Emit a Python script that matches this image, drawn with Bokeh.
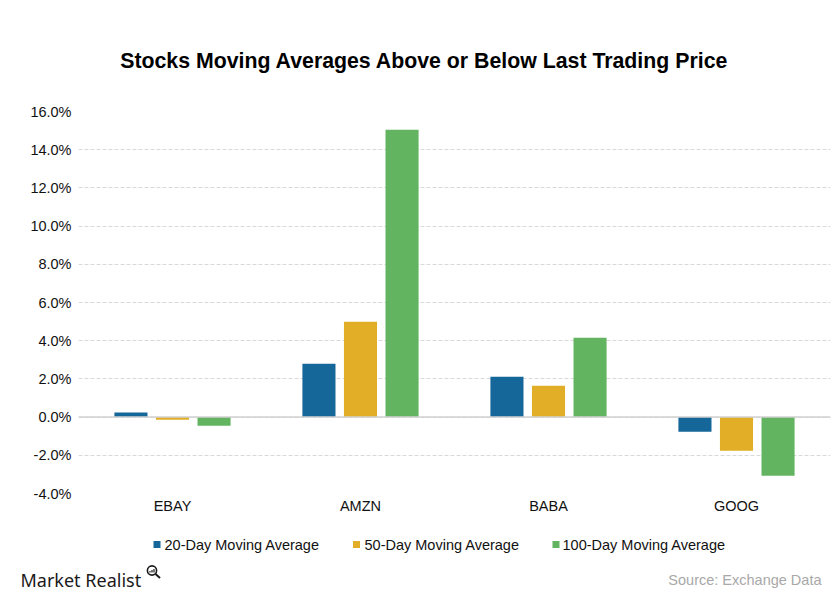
from bokeh.plotting import figure
from bokeh.models import (ColumnDataSource, FactorRange, Range1d, Label,
                          Span, PrintfTickFormatter, FixedTicker)
from bokeh.core.properties import value
from bokeh.layouts import column
from bokeh.transform import dodge
from bokeh.embed import file_html
from bokeh.resources import INLINE

# ---- data ----
tickers = ["EBAY", "AMZN", "BABA", "GOOG"]
ma20 = [0.24, 2.79, 2.11, -0.77]
ma50 = [-0.14, 4.99, 1.64, -1.76]
ma100 = [-0.45, 15.04, 4.15, -3.07]
series_names = ["20-Day Moving Average", "50-Day Moving Average", "100-Day Moving Average"]
y_ticks = [-4, -2, 0, 2, 4, 6, 8, 10, 12, 14, 16]
title_text = "Stocks Moving Averages Above or Below  Last Trading Price"
source_text = "Source: Exchange Data"
logo_text = "Market Realist"

colors = ["#156699", "#e3ae27", "#63b461"]
FONT = "Liberation Sans"
W = 840


def blank(h):
    f = figure(width=W, height=h, x_range=Range1d(0, W), y_range=Range1d(0, h),
               output_backend="svg", toolbar_location=None,
               x_axis_location=None, y_axis_location=None,
               min_border=0, min_border_left=0, min_border_right=0,
               min_border_top=0, min_border_bottom=0)
    f.outline_line_color = None
    f.grid.visible = False
    f.frame_align = False
    return f


# ---- title strip ----
top = blank(95)
top.add_layout(Label(x=427, y=35, x_units="screen", y_units="screen", text=title_text,
                     text_font=FONT, text_font_size="21.3px", text_font_style="bold",
                     text_align="center", text_baseline="middle", text_color="#000000"))

# ---- main chart ----
src = ColumnDataSource(dict(t=tickers, a=ma20, b=ma50, c=ma100))
p = figure(x_range=FactorRange(*tickers, range_padding=0), y_range=(-4, 16),
           width=W, height=435, output_backend="svg", toolbar_location=None,
           min_border_left=78, min_border_right=10, min_border_top=16,
           min_border_bottom=37)
p.outline_line_color = None
p.frame_align = False

off = 0.221
bw = 0.176
for col, dx, c in (("a", -off, colors[0]), ("b", 0, colors[1]), ("c", off, colors[2])):
    p.vbar(x=dodge("t", dx, range=p.x_range), top=col, bottom=0, width=bw,
           source=src, fill_color=c, line_color=None)

p.xgrid.grid_line_color = None
p.ygrid.grid_line_color = "#d9d9d9"
p.ygrid.grid_line_dash = "4 2"
p.ygrid.grid_line_width = 1
p.add_layout(Span(location=0, dimension="width", line_color="#d0d0d0", line_width=1.5))

p.yaxis.ticker = FixedTicker(ticks=y_ticks)
p.yaxis.formatter = PrintfTickFormatter(format="%.1f%%")
for ax in (p.xaxis[0], p.yaxis[0]):
    ax.axis_line_color = None
    ax.major_tick_line_color = None
    ax.minor_tick_line_color = None
    ax.major_tick_out = 0
    ax.major_tick_in = 0
    ax.major_label_text_font = FONT
    ax.major_label_text_font_size = "14.5px"
    ax.major_label_text_color = "#111111"
p.yaxis.major_label_standoff = 7
p.xaxis.major_label_standoff = 4

# ---- legend + footer strip ----
bot = blank(71)
leg = ColumnDataSource(dict(x=[156.5, 356.0, 555.5], tx=[164, 364, 562],
                            y=[57, 57, 57], name=series_names, color=colors))
bot.scatter(x="x", y="y", marker="square", size=7, source=leg,
            fill_color="color", line_color=None)
bot.text(x="tx", y="y", text="name", source=leg, text_font=value(FONT),
         text_font_size="14.5px", text_baseline="middle", text_align="left",
         text_color="#111111")

bot.add_layout(Label(x=20, y=22, x_units="screen", y_units="screen", text=logo_text,
                     text_font="Noto Sans", text_font_size="18px",
                     text_align="left", text_baseline="middle", text_color="#1a1a1a"))
# magnifier icon next to the logo
bot.circle(x=[151.5], y=[31], radius=4.6, fill_color=None, line_color="#1a1a1a", line_width=1.6)
bot.segment(x0=[155], y0=[27.5], x1=[159.5], y1=[23.5], line_color="#1a1a1a", line_width=2)
bot.segment(x0=[149.5, 151.5, 153.5], y0=[29, 29, 29], x1=[149.5, 151.5, 153.5],
            y1=[30.5, 31.5, 32.5], line_color="#1a1a1a", line_width=1.2)
bot.add_layout(Label(x=821, y=22, x_units="screen", y_units="screen", text=source_text,
                     text_font=FONT, text_font_size="14.5px",
                     text_align="right", text_baseline="middle", text_color="#a8a8a8"))

layout = column(top, p, bot, spacing=0)
open("out.html", "w").write(file_html(layout, INLINE))
